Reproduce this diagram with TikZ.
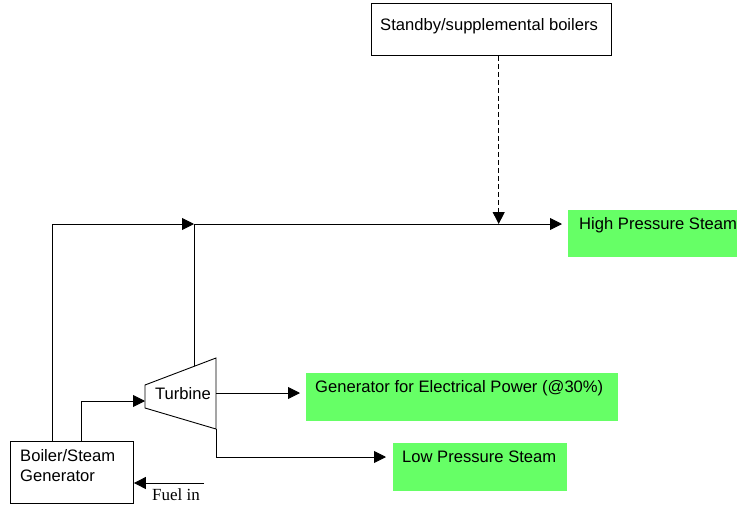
\documentclass[tikz,border=0pt]{standalone}
\usepackage{fontspec}
\setmainfont{Liberation Sans}
\newfontfamily\seriffont{Liberation Serif}
\usetikzlibrary{arrows.meta}
\definecolor{stgreen}{HTML}{66FF66}
\tikzset{
  box/.style={draw=black, line width=0.9pt, fill=white, inner sep=0pt, anchor=north west},
  greenbox/.style={fill=stgreen, draw=none, inner sep=0pt, anchor=north west},
  lbl/.style={inner sep=0pt, anchor=west, font=\fontsize{16.6}{20}\selectfont},
  conn/.style={draw=black, line width=0.9pt},
  tip/.style={-{Triangle[length=12pt,width=12pt]}},
  dashconn/.style={conn, dash pattern=on 5pt off 3pt}
}
\begin{document}
\begin{tikzpicture}[x=1pt,y=-1pt]
\useasboundingbox (0,0) rectangle (737,504);
% boxes
\node[box, minimum width=240pt, minimum height=52pt] (sb) at (371,3) {};
\node[lbl] (sbt) at (380,26) {Standby/supplemental boilers};
\node[greenbox, minimum width=175pt, minimum height=47pt] (hp) at (568,210) {};
\node[lbl] (hpt) at (579,225) {High Pressure Steam};
\node[greenbox, minimum width=312pt, minimum height=48pt] (gen) at (306,373) {};
\node[lbl] (gent) at (315,388) {Generator for Electrical Power (@30\%)};
\node[greenbox, minimum width=174pt, minimum height=48pt] (lp) at (393,443) {};
\node[lbl] (lpt) at (402,457) {Low Pressure Steam};
\node[box, minimum width=123pt, minimum height=62pt] (boiler) at (10,441) {};
\node[lbl, align=left] (boilert) at (20,466) {Boiler/Steam\\Generator};
% turbine
\coordinate (t1) at (145,385);
\coordinate (t2) at (216,358);
\coordinate (t3) at (216,429);
\coordinate (t4) at (145,408);
\draw[conn] (t1) -- (t2) -- (t3) -- (t4) -- cycle;
\node[lbl, anchor=center] (turb) at (183,394) {Turbine};
\coordinate (ttop) at (194,366.4);
\coordinate (tin) at (145,401);
\coordinate (tout) at (216,393);
\coordinate (tlow) at (216,428.5);
% junction points
\coordinate (j1) at (52.5,224);
\coordinate (j2) at (194,224);
\coordinate (hpin) at (562,224);
\coordinate (dash) at (498.7,224);
\coordinate (fuel) at (204,483);
% connectors
\draw[conn, tip] (boiler.north west -| j1) -- (j1) -- (j2);
\draw[conn] (ttop) -- (j2);
\draw[conn, tip] (j2) -- (hpin);
\draw[dashconn, tip] (sb.south -| dash) -- (dash);
\draw[conn, tip] (boiler.north west -| 81.5,0) |- (tin);
\draw[conn, tip] (tout) -- (300,393);
\draw[conn, tip] (tlow) |- (386,457);
\draw[conn, tip] (fuel) -- (fuel -| boiler.east);
\node[inner sep=0pt, anchor=west, font=\seriffont\fontsize{17}{20}\selectfont] (fuelt) at (152,495) {Fuel in};
\end{tikzpicture}
\end{document}
